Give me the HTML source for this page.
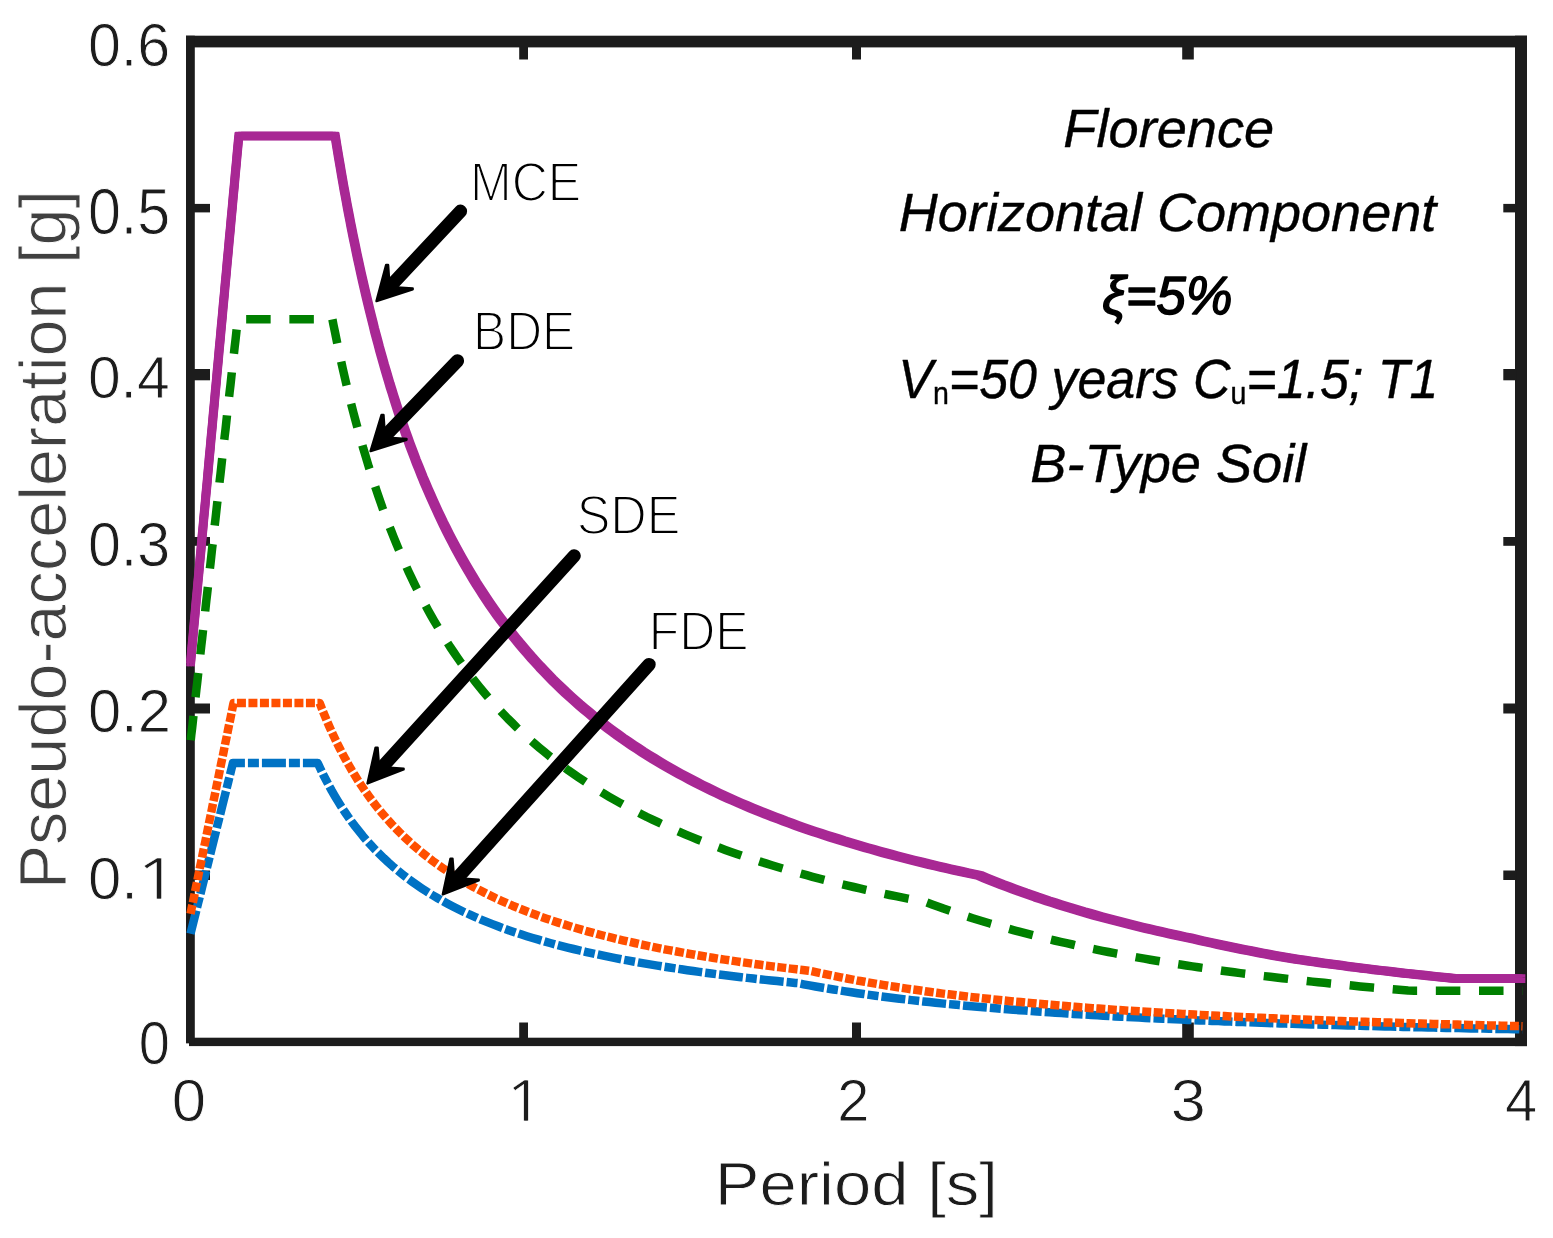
<!DOCTYPE html>
<html><head><meta charset="utf-8"><title>Pseudo-acceleration spectra</title>
<style>html,body{margin:0;padding:0;background:#fff;overflow:hidden}svg{display:block}</style>
</head><body>
<svg width="1553" height="1238" viewBox="0 0 1553 1238">
<rect width="1553" height="1238" fill="#fff"/>
<rect x="186" y="35.7" width="1341" height="11.7" fill="#1c1c1c"/>
<rect x="189" y="1037.7" width="1338" height="8.4" fill="#1c1c1c"/>
<rect x="186" y="1037.7" width="5" height="5.5" fill="#1c1c1c"/>
<rect x="186" y="35.7" width="8.8" height="1007.5" fill="#1c1c1c"/>
<rect x="1515" y="35.7" width="12" height="1010.4" fill="#1c1c1c"/>
<rect x="519.2" y="1022.5" width="8.8" height="16" fill="#1c1c1c"/>
<rect x="519.2" y="46" width="8.8" height="13.5" fill="#1c1c1c"/>
<rect x="852.0" y="1022.5" width="9.0" height="16" fill="#1c1c1c"/>
<rect x="852.0" y="46" width="9.0" height="13.5" fill="#1c1c1c"/>
<rect x="1182.2" y="1022.5" width="11.6" height="16" fill="#1c1c1c"/>
<rect x="1182.2" y="46" width="11.6" height="13.5" fill="#1c1c1c"/>
<rect x="194" y="203.9" width="16" height="8.5" fill="#1c1c1c"/>
<rect x="1503.3" y="203.9" width="13" height="8.5" fill="#1c1c1c"/>
<rect x="194" y="369.0" width="16" height="11.3" fill="#1c1c1c"/>
<rect x="1503.3" y="369.0" width="13" height="11.3" fill="#1c1c1c"/>
<rect x="194" y="537.0" width="16" height="8.8" fill="#1c1c1c"/>
<rect x="1503.3" y="537.0" width="13" height="8.8" fill="#1c1c1c"/>
<rect x="194" y="703.5" width="16" height="10.0" fill="#1c1c1c"/>
<rect x="1503.3" y="703.5" width="13" height="10.0" fill="#1c1c1c"/>
<rect x="194" y="870.5" width="16" height="9.5" fill="#1c1c1c"/>
<rect x="1503.3" y="870.5" width="13" height="9.5" fill="#1c1c1c"/>
<path d="M190.5,933.8L192.0,927.8L193.5,921.8L195.0,915.7L196.5,909.7L198.0,903.6L199.5,897.6L201.0,891.6L202.5,885.5L204.0,879.5L205.5,873.4L207.0,867.4L208.5,861.4L210.0,855.3L211.5,849.3L213.0,843.2L214.5,837.2L216.0,831.2L217.5,825.1L219.0,819.1L220.5,813.1L222.0,807.0L223.5,801.0L225.0,794.9L226.5,788.9L228.0,782.9L229.5,776.8L231.0,770.8L232.5,764.7L232.9,763.0L239.0,763.0L245.1,763.0L251.3,763.0L257.4,763.0L263.6,763.0L269.8,763.0L275.9,763.0L282.1,763.0L288.2,763.0L294.4,763.0L300.6,763.0L306.7,763.0L312.9,763.0L317.7,763.0L320.4,768.7L323.0,774.2L325.9,779.8L328.7,785.1L331.7,790.6L334.7,795.8L337.9,801.1L341.2,806.4L344.5,811.5L348.0,816.6L351.5,821.5L355.2,826.4L359.0,831.2L362.8,835.9L366.8,840.6L371.0,845.2L375.1,849.6L379.5,854.0L383.8,858.2L388.3,862.4L392.8,866.4L397.5,870.3L402.3,874.2L407.1,878.0L411.9,881.5L416.9,885.0L421.9,888.4L427.1,891.8L432.3,895.0L437.4,898.0L442.7,901.1L448.1,904.0L453.4,906.7L458.9,909.5L464.4,912.2L469.9,914.7L475.4,917.1L481.0,919.6L486.7,921.9L492.4,924.1L498.0,926.3L503.7,928.4L509.3,930.4L515.2,932.4L521.0,934.3L526.8,936.2L532.7,938.0L538.5,939.7L544.3,941.4L550.1,943.0L556.0,944.6L561.8,946.1L567.6,947.6L573.5,949.0L579.4,950.4L585.4,951.8L591.4,953.1L597.4,954.4L603.4,955.7L609.4,956.9L615.4,958.1L621.4,959.3L627.4,960.4L633.4,961.5L639.4,962.6L645.4,963.6L651.4,964.6L657.4,965.6L663.4,966.6L669.4,967.5L675.3,968.4L681.3,969.3L687.3,970.2L693.3,971.0L699.3,971.9L705.3,972.7L711.3,973.5L717.3,974.3L723.3,975.0L729.3,975.7L735.3,976.5L741.3,977.2L747.3,977.9L753.3,978.5L759.3,979.2L765.3,979.9L771.3,980.5L777.2,981.1L783.2,981.7L789.2,982.3L795.2,982.9L797.6,983.1L803.6,984.3L809.5,985.4L815.5,986.5L821.5,987.5L827.5,988.5L833.5,989.5L839.5,990.4L845.5,991.4L851.5,992.3L857.5,993.2L863.5,994.0L869.5,994.9L875.5,995.7L881.5,996.5L887.5,997.2L893.5,998.0L899.5,998.7L905.5,999.4L911.4,1000.1L917.4,1000.8L923.4,1001.5L929.4,1002.1L935.4,1002.7L941.4,1003.4L947.4,1004.0L953.4,1004.5L959.4,1005.1L965.4,1005.7L971.4,1006.2L977.4,1006.8L983.4,1007.3L989.4,1007.8L995.4,1008.3L1001.4,1008.8L1007.3,1009.3L1013.3,1009.7L1019.3,1010.2L1025.3,1010.6L1031.3,1011.1L1037.3,1011.5L1043.3,1011.9L1049.3,1012.3L1055.3,1012.7L1061.3,1013.1L1067.3,1013.5L1073.3,1013.9L1079.3,1014.3L1085.3,1014.6L1091.3,1015.0L1097.3,1015.3L1103.3,1015.7L1109.2,1016.0L1115.2,1016.4L1121.2,1016.7L1127.2,1017.0L1133.2,1017.3L1139.2,1017.6L1145.2,1017.9L1151.2,1018.2L1157.2,1018.5L1163.2,1018.8L1169.2,1019.0L1175.2,1019.3L1181.3,1019.6L1187.5,1019.9L1193.7,1020.1L1199.8,1020.4L1206.0,1020.6L1212.1,1020.9L1218.3,1021.1L1224.5,1021.4L1230.6,1021.6L1236.8,1021.9L1242.9,1022.1L1249.1,1022.3L1255.3,1022.5L1261.4,1022.7L1267.6,1023.0L1273.7,1023.2L1279.9,1023.4L1286.1,1023.6L1292.2,1023.8L1298.4,1024.0L1304.6,1024.2L1310.7,1024.4L1316.9,1024.5L1323.0,1024.7L1329.2,1024.9L1335.4,1025.1L1341.5,1025.3L1347.7,1025.4L1353.8,1025.6L1360.0,1025.8L1366.2,1025.9L1372.3,1026.1L1378.5,1026.3L1384.6,1026.4L1390.8,1026.6L1397.0,1026.7L1403.1,1026.9L1409.3,1027.0L1415.4,1027.2L1421.6,1027.3L1427.8,1027.5L1433.9,1027.6L1440.1,1027.7L1446.2,1027.9L1452.4,1028.0L1458.6,1028.1L1464.7,1028.3L1470.9,1028.4L1477.0,1028.5L1483.2,1028.6L1489.4,1028.8L1495.5,1028.9L1501.7,1029.0L1507.8,1029.1L1514.0,1029.2L1520.2,1029.3L1522.5,1029.4" fill="none" stroke="#0072c4" stroke-width="8.5" stroke-linejoin="round" stroke-linecap="butt" stroke-dasharray="24 3 11 3"/>
<path d="M190.5,913.8L191.8,907.3L193.2,900.8L194.5,894.3L195.8,887.7L197.2,881.2L198.5,874.7L199.8,868.2L201.2,861.7L202.5,855.1L203.8,848.6L205.2,842.1L206.5,835.6L207.8,829.0L209.1,822.5L210.5,816.0L211.8,809.5L213.1,802.9L214.5,796.4L215.8,789.9L217.1,783.4L218.5,776.9L219.8,770.3L221.1,763.8L222.5,757.3L223.8,750.8L225.1,744.2L226.5,737.7L227.8,731.2L229.1,724.7L230.5,718.2L231.8,711.6L233.1,705.1L233.6,703.0L239.6,703.0L245.8,703.0L251.9,703.0L258.1,703.0L264.3,703.0L270.4,703.0L276.6,703.0L282.7,703.0L288.9,703.0L295.1,703.0L301.2,703.0L307.4,703.0L313.5,703.0L319.7,703.0L322.0,709.0L324.4,714.8L326.7,720.4L329.2,726.2L331.7,731.7L334.4,737.5L337.0,743.0L339.9,748.7L342.7,754.1L345.7,759.7L348.7,765.0L351.8,770.4L355.0,775.6L358.3,780.9L361.7,786.0L365.2,791.1L368.7,796.0L372.3,800.9L376.1,805.9L380.0,810.7L384.0,815.4L388.0,820.0L392.1,824.6L396.3,829.0L400.6,833.4L405.0,837.6L409.4,841.7L413.9,845.8L418.6,849.8L423.3,853.6L428.1,857.4L432.9,861.1L437.9,864.7L442.9,868.2L447.9,871.6L453.1,874.9L458.2,878.1L463.4,881.2L468.7,884.3L474.0,887.3L479.4,890.1L484.9,892.9L490.4,895.6L495.9,898.3L501.4,900.8L506.8,903.2L512.5,905.7L518.2,908.0L523.8,910.3L529.5,912.5L535.2,914.6L540.8,916.7L546.6,918.7L552.5,920.7L558.3,922.6L564.1,924.4L570.0,926.2L575.8,928.0L581.6,929.7L587.4,931.3L593.3,932.9L599.1,934.5L604.9,936.0L610.7,937.4L616.7,938.9L622.7,940.3L628.7,941.7L634.7,943.0L640.7,944.4L646.7,945.6L652.7,946.9L658.7,948.1L664.7,949.3L670.7,950.4L676.7,951.5L682.7,952.6L688.7,953.7L694.7,954.7L700.7,955.8L706.6,956.8L712.6,957.7L718.6,958.7L724.6,959.6L730.6,960.5L736.6,961.4L742.6,962.3L748.6,963.1L754.6,964.0L760.6,964.8L766.6,965.6L772.6,966.4L778.6,967.1L784.6,967.9L790.6,968.6L796.6,969.3L802.6,970.0L808.5,970.7L810.9,971.0L816.9,972.3L822.9,973.6L828.9,974.9L834.9,976.1L840.8,977.3L846.8,978.5L852.8,979.6L858.8,980.8L864.8,981.8L870.8,982.9L876.8,983.9L882.8,984.9L888.8,985.9L894.8,986.8L900.8,987.7L906.8,988.6L912.8,989.5L918.8,990.3L924.8,991.2L930.8,992.0L936.8,992.8L942.7,993.6L948.7,994.3L954.7,995.0L960.7,995.8L966.7,996.5L972.7,997.2L978.7,997.8L984.7,998.5L990.7,999.1L996.7,999.8L1002.7,1000.4L1008.7,1001.0L1014.7,1001.6L1020.7,1002.1L1026.7,1002.7L1032.7,1003.2L1038.7,1003.8L1044.6,1004.3L1050.6,1004.8L1056.6,1005.3L1062.6,1005.8L1068.6,1006.3L1074.6,1006.8L1080.6,1007.3L1086.6,1007.7L1092.6,1008.2L1098.6,1008.6L1104.6,1009.0L1110.6,1009.4L1116.6,1009.9L1122.6,1010.3L1128.6,1010.7L1134.6,1011.1L1140.5,1011.4L1146.5,1011.8L1152.5,1012.2L1158.5,1012.5L1164.5,1012.9L1170.5,1013.2L1176.5,1013.6L1182.5,1013.9L1188.5,1014.3L1194.5,1014.6L1200.5,1014.9L1206.5,1015.2L1212.5,1015.5L1218.5,1015.8L1224.5,1016.1L1230.5,1016.4L1236.5,1016.7L1242.4,1017.0L1248.4,1017.3L1254.4,1017.5L1260.6,1017.8L1266.8,1018.1L1272.9,1018.3L1279.1,1018.6L1285.2,1018.9L1291.4,1019.1L1297.6,1019.4L1303.7,1019.6L1309.9,1019.8L1316.0,1020.1L1322.2,1020.3L1328.4,1020.5L1334.5,1020.8L1340.7,1021.0L1346.8,1021.2L1353.0,1021.4L1359.2,1021.6L1365.3,1021.8L1371.5,1022.0L1377.6,1022.2L1383.8,1022.4L1390.0,1022.6L1396.1,1022.8L1402.3,1023.0L1408.4,1023.2L1414.6,1023.4L1420.8,1023.6L1426.9,1023.8L1433.1,1023.9L1439.2,1024.1L1445.4,1024.3L1451.6,1024.4L1457.7,1024.6L1463.9,1024.8L1470.1,1024.9L1476.2,1025.1L1482.4,1025.2L1488.5,1025.4L1494.7,1025.5L1500.9,1025.7L1507.0,1025.8L1513.2,1026.0L1519.3,1026.1L1522.5,1026.2" fill="none" stroke="#ff4f00" stroke-width="8.5" stroke-linejoin="round" stroke-linecap="butt" stroke-dasharray="9 2.5"/>
<path d="M190.5,742.3L191.3,734.9L192.2,727.4L193.0,720.0L193.8,712.5L194.7,705.1L195.5,697.6L196.3,690.2L197.2,682.7L198.0,675.3L198.8,667.8L199.7,660.4L200.5,652.9L201.3,645.5L202.2,638.0L203.0,630.6L203.8,623.1L204.7,615.7L205.5,608.2L206.3,600.8L207.2,593.3L208.0,585.9L208.8,578.4L209.6,571.0L210.5,563.5L211.3,556.1L212.1,548.6L213.0,541.2L213.8,533.7L214.6,526.3L215.5,518.8L216.3,511.4L217.1,503.9L218.0,496.5L218.8,489.0L219.6,481.6L220.5,474.1L221.3,466.7L222.1,459.2L223.0,451.8L223.8,444.3L224.6,436.9L225.5,429.4L226.3,422.0L227.1,414.5L228.0,407.1L228.8,399.6L229.6,392.2L230.5,384.7L231.3,377.3L232.1,369.8L233.0,362.4L233.8,354.9L234.6,347.5L235.5,340.0L236.3,332.6L237.1,325.1L237.8,319.2L243.9,319.2L250.1,319.2L256.3,319.2L262.4,319.2L268.6,319.2L274.7,319.2L280.9,319.2L287.1,319.2L293.2,319.2L299.4,319.2L305.6,319.2L311.7,319.2L317.9,319.2L324.0,319.2L330.2,319.2L332.4,319.2L333.5,325.0L334.9,331.6L336.2,338.1L337.5,344.5L338.9,350.8L340.2,356.9L341.5,363.0L342.8,368.9L344.3,375.4L345.8,381.9L347.3,388.2L348.8,394.3L350.3,400.4L351.8,406.4L353.3,412.2L355.0,418.6L356.7,424.8L358.3,430.9L360.0,436.9L361.7,442.8L363.3,448.6L365.2,454.8L367.0,460.9L368.8,466.9L370.7,472.7L372.5,478.4L374.5,484.5L376.5,490.5L378.5,496.4L380.5,502.1L382.6,508.2L384.8,514.1L387.0,519.9L389.1,525.6L391.5,531.6L393.8,537.5L396.1,543.2L398.5,548.8L401.0,554.6L403.5,560.3L406.0,565.9L408.6,571.7L411.3,577.4L413.9,582.9L416.6,588.3L419.4,593.9L422.3,599.4L425.1,604.7L428.1,610.2L431.1,615.6L434.1,620.8L437.3,626.2L440.4,631.5L443.6,636.6L446.9,641.9L450.2,647.0L453.6,652.0L457.1,657.1L460.6,662.1L464.2,667.1L467.9,672.1L471.6,676.9L475.4,681.8L479.2,686.6L483.0,691.2L487.0,695.9L491.0,700.5L495.2,705.2L499.4,709.7L503.5,714.1L507.8,718.6L512.2,722.9L516.5,727.2L521.0,731.5L525.5,735.6L530.0,739.7L534.7,743.8L539.3,747.7L544.0,751.6L548.8,755.5L553.6,759.3L558.5,763.0L563.3,766.6L568.3,770.3L573.3,773.8L578.3,777.2L583.3,780.6L588.4,784.0L593.6,787.3L598.8,790.5L603.9,793.6L609.2,796.8L614.6,799.9L619.9,802.9L625.2,805.8L630.6,808.6L635.9,811.4L641.4,814.2L646.9,817.0L652.4,819.6L657.9,822.2L663.4,824.8L668.9,827.3L674.3,829.7L680.0,832.2L685.7,834.6L691.3,836.9L697.0,839.2L702.7,841.4L708.3,843.6L714.0,845.7L719.6,847.8L725.3,849.9L731.0,851.9L736.8,853.9L742.6,855.9L748.4,857.8L754.3,859.7L760.1,861.6L765.9,863.4L771.8,865.2L777.6,867.0L783.4,868.7L789.2,870.4L795.1,872.0L800.9,873.6L806.7,875.2L812.5,876.8L818.4,878.3L824.2,879.8L830.0,881.3L835.9,882.7L841.8,884.2L847.8,885.6L853.8,887.0L859.8,888.4L865.8,889.8L871.8,891.1L877.8,892.4L883.8,893.7L889.8,895.0L895.8,896.2L901.8,897.4L907.8,898.6L913.8,899.8L919.8,901.0L925.8,902.1L926.4,902.3L932.1,904.4L937.8,906.4L943.4,908.5L949.2,910.5L955.1,912.5L960.9,914.4L966.7,916.3L972.6,918.2L978.4,920.0L984.2,921.8L990.0,923.5L995.9,925.2L1001.7,926.9L1007.5,928.5L1013.3,930.1L1019.2,931.7L1025.0,933.2L1030.8,934.7L1036.7,936.2L1042.5,937.6L1048.5,939.1L1054.5,940.5L1060.5,941.9L1066.5,943.2L1072.5,944.5L1078.4,945.9L1084.4,947.1L1090.4,948.4L1096.4,949.6L1102.4,950.8L1108.4,952.0L1114.4,953.2L1120.4,954.3L1126.4,955.4L1132.4,956.5L1138.4,957.6L1144.4,958.6L1150.4,959.7L1156.4,960.7L1162.4,961.7L1168.4,962.6L1174.3,963.6L1180.3,964.5L1186.3,965.5L1192.3,966.4L1198.3,967.3L1204.3,968.1L1210.3,969.0L1216.3,969.8L1222.3,970.7L1228.3,971.5L1234.3,972.3L1240.3,973.1L1246.3,973.8L1252.3,974.6L1258.3,975.4L1264.3,976.1L1270.3,976.8L1276.2,977.5L1282.2,978.2L1288.2,978.9L1294.2,979.6L1300.2,980.3L1306.2,980.9L1312.2,981.6L1318.2,982.2L1324.2,982.8L1330.2,983.4L1336.2,984.0L1342.2,984.6L1348.2,985.2L1354.2,985.8L1360.2,986.4L1366.2,986.9L1372.2,987.5L1378.1,988.0L1384.1,988.6L1390.1,989.1L1396.1,989.6L1402.1,990.1L1408.1,990.6L1414.3,990.7L1420.4,990.7L1426.6,990.7L1432.8,990.7L1438.9,990.7L1445.1,990.7L1451.2,990.7L1457.4,990.7L1463.6,990.7L1469.7,990.7L1475.9,990.7L1482.0,990.7L1488.2,990.7L1494.4,990.7L1500.5,990.7L1506.7,990.7L1512.8,990.7L1519.0,990.7L1522.5,990.7" fill="none" stroke="#008000" stroke-width="8.5" stroke-linejoin="round" stroke-linecap="butt" stroke-dasharray="24.5 18.7" stroke-dashoffset="-2.1"/>
<g fill="none" stroke="#a82894" stroke-width="3.0" stroke-linejoin="round" stroke-linecap="butt">
<path transform="translate(-2.85,-2.85)" d="M190.5,663.5L191.2,656.2L191.8,648.9L192.5,641.7L193.2,634.4L193.8,627.1L194.5,619.8L195.2,612.6L195.8,605.3L196.5,598.0L197.2,590.7L197.8,583.5L198.5,576.2L199.2,568.9L199.8,561.6L200.5,554.4L201.2,547.1L201.8,539.8L202.5,532.5L203.2,525.2L203.8,518.0L204.5,510.7L205.2,503.4L205.8,496.1L206.5,488.9L207.2,481.6L207.8,474.3L208.5,467.0L209.1,459.8L209.8,452.5L210.5,445.2L211.1,437.9L211.8,430.7L212.5,423.4L213.1,416.1L213.8,408.8L214.5,401.6L215.1,394.3L215.8,387.0L216.5,379.7L217.1,372.5L217.8,365.2L218.5,357.9L219.1,350.6L219.8,343.3L220.5,336.1L221.1,328.8L221.8,321.5L222.5,314.2L223.1,307.0L223.8,299.7L224.5,292.4L225.1,285.1L225.8,277.9L226.5,270.6L227.1,263.3L227.8,256.0L228.5,248.8L229.1,241.5L229.8,234.2L230.5,226.9L231.1,219.7L231.8,212.4L232.5,205.1L233.1,197.8L233.8,190.6L234.5,183.3L235.1,176.0L235.8,168.7L236.5,161.4L237.1,154.2L237.8,146.9L238.5,139.6L238.8,136.0L244.9,136.0L251.1,136.0L257.3,136.0L263.4,136.0L269.6,136.0L275.7,136.0L281.9,136.0L288.1,136.0L294.2,136.0L300.4,136.0L306.6,136.0L312.7,136.0L318.9,136.0L325.0,136.0L331.2,136.0L335.2,136.0L336.2,142.4L337.2,148.5L338.2,154.6L339.2,160.5L340.4,167.4L341.5,174.1L342.7,180.8L343.8,187.3L345.0,193.7L346.2,200.1L347.3,206.3L348.5,212.5L349.7,218.6L350.8,224.6L352.0,230.5L353.3,237.1L354.7,243.6L356.0,250.0L357.3,256.4L358.7,262.6L360.0,268.7L361.3,274.7L362.7,280.7L364.2,287.2L365.7,293.7L367.2,300.0L368.7,306.3L370.2,312.4L371.7,318.4L373.2,324.3L374.6,330.2L376.3,336.6L378.0,342.8L379.6,349.0L381.3,355.0L383.0,361.0L384.6,366.8L386.5,373.1L388.3,379.3L390.1,385.4L392.0,391.3L393.8,397.2L395.6,402.9L397.6,409.1L399.6,415.1L401.6,421.1L403.6,426.9L405.6,432.6L407.8,438.7L409.9,444.6L412.1,450.4L414.3,456.1L416.4,461.8L418.8,467.7L421.1,473.5L423.4,479.2L425.8,484.7L428.3,490.6L430.8,496.3L433.3,501.9L435.8,507.4L438.4,513.1L441.1,518.8L443.7,524.3L446.4,529.6L449.2,535.2L452.1,540.7L454.9,546.1L457.9,551.6L460.9,557.1L463.9,562.4L467.1,567.9L470.2,573.2L473.4,578.5L476.5,583.6L479.9,588.8L483.2,594.0L486.5,599.0L490.0,604.2L493.5,609.2L497.0,614.2L500.7,619.2L504.4,624.1L508.0,629.0L511.8,633.9L515.7,638.7L519.5,643.4L523.5,648.1L527.5,652.8L531.5,657.4L535.7,662.0L539.8,666.5L544.0,670.9L548.3,675.4L552.6,679.8L557.0,684.1L561.3,688.2L565.8,692.5L570.3,696.6L574.8,700.6L579.4,704.7L584.1,708.7L588.8,712.6L593.4,716.4L598.3,720.3L603.1,724.0L607.9,727.7L612.7,731.3L617.7,734.9L622.7,738.5L627.7,741.9L632.7,745.3L637.9,748.7L643.0,752.1L648.2,755.3L653.4,758.5L658.5,761.6L663.9,764.8L669.2,767.9L674.5,770.9L679.8,773.8L685.2,776.7L690.5,779.5L695.8,782.3L701.3,785.1L706.8,787.8L712.3,790.5L717.8,793.1L723.3,795.7L728.8,798.2L734.3,800.6L739.9,803.1L745.6,805.5L751.3,807.9L756.9,810.2L762.6,812.5L768.3,814.8L773.9,817.0L779.6,819.1L785.2,821.3L790.9,823.3L796.6,825.4L802.2,827.4L808.0,829.4L813.9,831.4L819.7,833.3L825.5,835.2L831.4,837.1L837.2,838.9L843.0,840.8L848.8,842.5L854.7,844.3L860.5,846.0L866.3,847.7L872.2,849.3L878.0,851.0L883.8,852.6L889.6,854.1L895.5,855.7L901.3,857.2L907.1,858.7L912.9,860.2L918.8,861.6L924.8,863.1L930.8,864.6L936.8,866.0L942.7,867.4L948.7,868.7L954.7,870.1L960.7,871.4L966.7,872.7L972.7,874.0L978.7,875.3L979.7,875.5L985.4,877.9L991.0,880.2L996.7,882.4L1002.4,884.7L1008.0,886.8L1013.7,888.9L1019.3,891.0L1025.0,893.1L1030.7,895.0L1036.5,897.1L1042.3,899.0L1048.1,901.0L1054.0,902.8L1059.8,904.7L1065.6,906.5L1071.5,908.3L1077.3,910.0L1083.1,911.8L1088.9,913.4L1094.8,915.1L1100.6,916.7L1106.4,918.3L1112.2,919.8L1118.1,921.3L1123.9,922.8L1129.7,924.3L1135.6,925.8L1141.5,927.2L1147.5,928.6L1153.5,930.0L1159.5,931.4L1165.5,932.8L1171.5,934.1L1177.5,935.4L1183.5,936.7L1189.5,937.9L1195.5,939.3L1201.5,940.7L1207.5,942.0L1213.5,943.3L1219.5,944.6L1225.5,945.9L1231.5,947.1L1237.5,948.4L1243.4,949.6L1249.4,950.7L1255.4,951.9L1261.4,953.1L1267.4,954.2L1273.4,955.3L1279.4,956.4L1285.4,957.4L1291.4,958.4L1297.4,959.3L1303.4,960.2L1309.4,961.1L1315.4,961.9L1321.4,962.8L1327.4,963.6L1333.4,964.4L1339.4,965.2L1345.3,966.0L1351.3,966.8L1357.3,967.5L1363.3,968.3L1369.3,969.0L1375.3,969.8L1381.3,970.5L1387.3,971.2L1393.3,971.9L1399.3,972.6L1405.3,973.3L1411.3,973.9L1417.3,974.6L1423.3,975.2L1429.3,975.9L1435.3,976.5L1441.2,977.1L1447.2,977.7L1453.2,978.4L1459.2,978.7L1465.4,978.7L1471.6,978.7L1477.7,978.7L1483.9,978.7L1490.0,978.7L1496.2,978.7L1502.4,978.7L1508.5,978.7L1514.7,978.7L1520.8,978.7L1522.5,978.7"/>
<path transform="translate(-2.85,0.0)" d="M190.5,663.5L191.2,656.2L191.8,648.9L192.5,641.7L193.2,634.4L193.8,627.1L194.5,619.8L195.2,612.6L195.8,605.3L196.5,598.0L197.2,590.7L197.8,583.5L198.5,576.2L199.2,568.9L199.8,561.6L200.5,554.4L201.2,547.1L201.8,539.8L202.5,532.5L203.2,525.2L203.8,518.0L204.5,510.7L205.2,503.4L205.8,496.1L206.5,488.9L207.2,481.6L207.8,474.3L208.5,467.0L209.1,459.8L209.8,452.5L210.5,445.2L211.1,437.9L211.8,430.7L212.5,423.4L213.1,416.1L213.8,408.8L214.5,401.6L215.1,394.3L215.8,387.0L216.5,379.7L217.1,372.5L217.8,365.2L218.5,357.9L219.1,350.6L219.8,343.3L220.5,336.1L221.1,328.8L221.8,321.5L222.5,314.2L223.1,307.0L223.8,299.7L224.5,292.4L225.1,285.1L225.8,277.9L226.5,270.6L227.1,263.3L227.8,256.0L228.5,248.8L229.1,241.5L229.8,234.2L230.5,226.9L231.1,219.7L231.8,212.4L232.5,205.1L233.1,197.8L233.8,190.6L234.5,183.3L235.1,176.0L235.8,168.7L236.5,161.4L237.1,154.2L237.8,146.9L238.5,139.6L238.8,136.0L244.9,136.0L251.1,136.0L257.3,136.0L263.4,136.0L269.6,136.0L275.7,136.0L281.9,136.0L288.1,136.0L294.2,136.0L300.4,136.0L306.6,136.0L312.7,136.0L318.9,136.0L325.0,136.0L331.2,136.0L335.2,136.0L336.2,142.4L337.2,148.5L338.2,154.6L339.2,160.5L340.4,167.4L341.5,174.1L342.7,180.8L343.8,187.3L345.0,193.7L346.2,200.1L347.3,206.3L348.5,212.5L349.7,218.6L350.8,224.6L352.0,230.5L353.3,237.1L354.7,243.6L356.0,250.0L357.3,256.4L358.7,262.6L360.0,268.7L361.3,274.7L362.7,280.7L364.2,287.2L365.7,293.7L367.2,300.0L368.7,306.3L370.2,312.4L371.7,318.4L373.2,324.3L374.6,330.2L376.3,336.6L378.0,342.8L379.6,349.0L381.3,355.0L383.0,361.0L384.6,366.8L386.5,373.1L388.3,379.3L390.1,385.4L392.0,391.3L393.8,397.2L395.6,402.9L397.6,409.1L399.6,415.1L401.6,421.1L403.6,426.9L405.6,432.6L407.8,438.7L409.9,444.6L412.1,450.4L414.3,456.1L416.4,461.8L418.8,467.7L421.1,473.5L423.4,479.2L425.8,484.7L428.3,490.6L430.8,496.3L433.3,501.9L435.8,507.4L438.4,513.1L441.1,518.8L443.7,524.3L446.4,529.6L449.2,535.2L452.1,540.7L454.9,546.1L457.9,551.6L460.9,557.1L463.9,562.4L467.1,567.9L470.2,573.2L473.4,578.5L476.5,583.6L479.9,588.8L483.2,594.0L486.5,599.0L490.0,604.2L493.5,609.2L497.0,614.2L500.7,619.2L504.4,624.1L508.0,629.0L511.8,633.9L515.7,638.7L519.5,643.4L523.5,648.1L527.5,652.8L531.5,657.4L535.7,662.0L539.8,666.5L544.0,670.9L548.3,675.4L552.6,679.8L557.0,684.1L561.3,688.2L565.8,692.5L570.3,696.6L574.8,700.6L579.4,704.7L584.1,708.7L588.8,712.6L593.4,716.4L598.3,720.3L603.1,724.0L607.9,727.7L612.7,731.3L617.7,734.9L622.7,738.5L627.7,741.9L632.7,745.3L637.9,748.7L643.0,752.1L648.2,755.3L653.4,758.5L658.5,761.6L663.9,764.8L669.2,767.9L674.5,770.9L679.8,773.8L685.2,776.7L690.5,779.5L695.8,782.3L701.3,785.1L706.8,787.8L712.3,790.5L717.8,793.1L723.3,795.7L728.8,798.2L734.3,800.6L739.9,803.1L745.6,805.5L751.3,807.9L756.9,810.2L762.6,812.5L768.3,814.8L773.9,817.0L779.6,819.1L785.2,821.3L790.9,823.3L796.6,825.4L802.2,827.4L808.0,829.4L813.9,831.4L819.7,833.3L825.5,835.2L831.4,837.1L837.2,838.9L843.0,840.8L848.8,842.5L854.7,844.3L860.5,846.0L866.3,847.7L872.2,849.3L878.0,851.0L883.8,852.6L889.6,854.1L895.5,855.7L901.3,857.2L907.1,858.7L912.9,860.2L918.8,861.6L924.8,863.1L930.8,864.6L936.8,866.0L942.7,867.4L948.7,868.7L954.7,870.1L960.7,871.4L966.7,872.7L972.7,874.0L978.7,875.3L979.7,875.5L985.4,877.9L991.0,880.2L996.7,882.4L1002.4,884.7L1008.0,886.8L1013.7,888.9L1019.3,891.0L1025.0,893.1L1030.7,895.0L1036.5,897.1L1042.3,899.0L1048.1,901.0L1054.0,902.8L1059.8,904.7L1065.6,906.5L1071.5,908.3L1077.3,910.0L1083.1,911.8L1088.9,913.4L1094.8,915.1L1100.6,916.7L1106.4,918.3L1112.2,919.8L1118.1,921.3L1123.9,922.8L1129.7,924.3L1135.6,925.8L1141.5,927.2L1147.5,928.6L1153.5,930.0L1159.5,931.4L1165.5,932.8L1171.5,934.1L1177.5,935.4L1183.5,936.7L1189.5,937.9L1195.5,939.3L1201.5,940.7L1207.5,942.0L1213.5,943.3L1219.5,944.6L1225.5,945.9L1231.5,947.1L1237.5,948.4L1243.4,949.6L1249.4,950.7L1255.4,951.9L1261.4,953.1L1267.4,954.2L1273.4,955.3L1279.4,956.4L1285.4,957.4L1291.4,958.4L1297.4,959.3L1303.4,960.2L1309.4,961.1L1315.4,961.9L1321.4,962.8L1327.4,963.6L1333.4,964.4L1339.4,965.2L1345.3,966.0L1351.3,966.8L1357.3,967.5L1363.3,968.3L1369.3,969.0L1375.3,969.8L1381.3,970.5L1387.3,971.2L1393.3,971.9L1399.3,972.6L1405.3,973.3L1411.3,973.9L1417.3,974.6L1423.3,975.2L1429.3,975.9L1435.3,976.5L1441.2,977.1L1447.2,977.7L1453.2,978.4L1459.2,978.7L1465.4,978.7L1471.6,978.7L1477.7,978.7L1483.9,978.7L1490.0,978.7L1496.2,978.7L1502.4,978.7L1508.5,978.7L1514.7,978.7L1520.8,978.7L1522.5,978.7"/>
<path transform="translate(-2.85,2.85)" d="M190.5,663.5L191.2,656.2L191.8,648.9L192.5,641.7L193.2,634.4L193.8,627.1L194.5,619.8L195.2,612.6L195.8,605.3L196.5,598.0L197.2,590.7L197.8,583.5L198.5,576.2L199.2,568.9L199.8,561.6L200.5,554.4L201.2,547.1L201.8,539.8L202.5,532.5L203.2,525.2L203.8,518.0L204.5,510.7L205.2,503.4L205.8,496.1L206.5,488.9L207.2,481.6L207.8,474.3L208.5,467.0L209.1,459.8L209.8,452.5L210.5,445.2L211.1,437.9L211.8,430.7L212.5,423.4L213.1,416.1L213.8,408.8L214.5,401.6L215.1,394.3L215.8,387.0L216.5,379.7L217.1,372.5L217.8,365.2L218.5,357.9L219.1,350.6L219.8,343.3L220.5,336.1L221.1,328.8L221.8,321.5L222.5,314.2L223.1,307.0L223.8,299.7L224.5,292.4L225.1,285.1L225.8,277.9L226.5,270.6L227.1,263.3L227.8,256.0L228.5,248.8L229.1,241.5L229.8,234.2L230.5,226.9L231.1,219.7L231.8,212.4L232.5,205.1L233.1,197.8L233.8,190.6L234.5,183.3L235.1,176.0L235.8,168.7L236.5,161.4L237.1,154.2L237.8,146.9L238.5,139.6L238.8,136.0L244.9,136.0L251.1,136.0L257.3,136.0L263.4,136.0L269.6,136.0L275.7,136.0L281.9,136.0L288.1,136.0L294.2,136.0L300.4,136.0L306.6,136.0L312.7,136.0L318.9,136.0L325.0,136.0L331.2,136.0L335.2,136.0L336.2,142.4L337.2,148.5L338.2,154.6L339.2,160.5L340.4,167.4L341.5,174.1L342.7,180.8L343.8,187.3L345.0,193.7L346.2,200.1L347.3,206.3L348.5,212.5L349.7,218.6L350.8,224.6L352.0,230.5L353.3,237.1L354.7,243.6L356.0,250.0L357.3,256.4L358.7,262.6L360.0,268.7L361.3,274.7L362.7,280.7L364.2,287.2L365.7,293.7L367.2,300.0L368.7,306.3L370.2,312.4L371.7,318.4L373.2,324.3L374.6,330.2L376.3,336.6L378.0,342.8L379.6,349.0L381.3,355.0L383.0,361.0L384.6,366.8L386.5,373.1L388.3,379.3L390.1,385.4L392.0,391.3L393.8,397.2L395.6,402.9L397.6,409.1L399.6,415.1L401.6,421.1L403.6,426.9L405.6,432.6L407.8,438.7L409.9,444.6L412.1,450.4L414.3,456.1L416.4,461.8L418.8,467.7L421.1,473.5L423.4,479.2L425.8,484.7L428.3,490.6L430.8,496.3L433.3,501.9L435.8,507.4L438.4,513.1L441.1,518.8L443.7,524.3L446.4,529.6L449.2,535.2L452.1,540.7L454.9,546.1L457.9,551.6L460.9,557.1L463.9,562.4L467.1,567.9L470.2,573.2L473.4,578.5L476.5,583.6L479.9,588.8L483.2,594.0L486.5,599.0L490.0,604.2L493.5,609.2L497.0,614.2L500.7,619.2L504.4,624.1L508.0,629.0L511.8,633.9L515.7,638.7L519.5,643.4L523.5,648.1L527.5,652.8L531.5,657.4L535.7,662.0L539.8,666.5L544.0,670.9L548.3,675.4L552.6,679.8L557.0,684.1L561.3,688.2L565.8,692.5L570.3,696.6L574.8,700.6L579.4,704.7L584.1,708.7L588.8,712.6L593.4,716.4L598.3,720.3L603.1,724.0L607.9,727.7L612.7,731.3L617.7,734.9L622.7,738.5L627.7,741.9L632.7,745.3L637.9,748.7L643.0,752.1L648.2,755.3L653.4,758.5L658.5,761.6L663.9,764.8L669.2,767.9L674.5,770.9L679.8,773.8L685.2,776.7L690.5,779.5L695.8,782.3L701.3,785.1L706.8,787.8L712.3,790.5L717.8,793.1L723.3,795.7L728.8,798.2L734.3,800.6L739.9,803.1L745.6,805.5L751.3,807.9L756.9,810.2L762.6,812.5L768.3,814.8L773.9,817.0L779.6,819.1L785.2,821.3L790.9,823.3L796.6,825.4L802.2,827.4L808.0,829.4L813.9,831.4L819.7,833.3L825.5,835.2L831.4,837.1L837.2,838.9L843.0,840.8L848.8,842.5L854.7,844.3L860.5,846.0L866.3,847.7L872.2,849.3L878.0,851.0L883.8,852.6L889.6,854.1L895.5,855.7L901.3,857.2L907.1,858.7L912.9,860.2L918.8,861.6L924.8,863.1L930.8,864.6L936.8,866.0L942.7,867.4L948.7,868.7L954.7,870.1L960.7,871.4L966.7,872.7L972.7,874.0L978.7,875.3L979.7,875.5L985.4,877.9L991.0,880.2L996.7,882.4L1002.4,884.7L1008.0,886.8L1013.7,888.9L1019.3,891.0L1025.0,893.1L1030.7,895.0L1036.5,897.1L1042.3,899.0L1048.1,901.0L1054.0,902.8L1059.8,904.7L1065.6,906.5L1071.5,908.3L1077.3,910.0L1083.1,911.8L1088.9,913.4L1094.8,915.1L1100.6,916.7L1106.4,918.3L1112.2,919.8L1118.1,921.3L1123.9,922.8L1129.7,924.3L1135.6,925.8L1141.5,927.2L1147.5,928.6L1153.5,930.0L1159.5,931.4L1165.5,932.8L1171.5,934.1L1177.5,935.4L1183.5,936.7L1189.5,937.9L1195.5,939.3L1201.5,940.7L1207.5,942.0L1213.5,943.3L1219.5,944.6L1225.5,945.9L1231.5,947.1L1237.5,948.4L1243.4,949.6L1249.4,950.7L1255.4,951.9L1261.4,953.1L1267.4,954.2L1273.4,955.3L1279.4,956.4L1285.4,957.4L1291.4,958.4L1297.4,959.3L1303.4,960.2L1309.4,961.1L1315.4,961.9L1321.4,962.8L1327.4,963.6L1333.4,964.4L1339.4,965.2L1345.3,966.0L1351.3,966.8L1357.3,967.5L1363.3,968.3L1369.3,969.0L1375.3,969.8L1381.3,970.5L1387.3,971.2L1393.3,971.9L1399.3,972.6L1405.3,973.3L1411.3,973.9L1417.3,974.6L1423.3,975.2L1429.3,975.9L1435.3,976.5L1441.2,977.1L1447.2,977.7L1453.2,978.4L1459.2,978.7L1465.4,978.7L1471.6,978.7L1477.7,978.7L1483.9,978.7L1490.0,978.7L1496.2,978.7L1502.4,978.7L1508.5,978.7L1514.7,978.7L1520.8,978.7L1522.5,978.7"/>
<path transform="translate(0.0,-2.85)" d="M190.5,663.5L191.2,656.2L191.8,648.9L192.5,641.7L193.2,634.4L193.8,627.1L194.5,619.8L195.2,612.6L195.8,605.3L196.5,598.0L197.2,590.7L197.8,583.5L198.5,576.2L199.2,568.9L199.8,561.6L200.5,554.4L201.2,547.1L201.8,539.8L202.5,532.5L203.2,525.2L203.8,518.0L204.5,510.7L205.2,503.4L205.8,496.1L206.5,488.9L207.2,481.6L207.8,474.3L208.5,467.0L209.1,459.8L209.8,452.5L210.5,445.2L211.1,437.9L211.8,430.7L212.5,423.4L213.1,416.1L213.8,408.8L214.5,401.6L215.1,394.3L215.8,387.0L216.5,379.7L217.1,372.5L217.8,365.2L218.5,357.9L219.1,350.6L219.8,343.3L220.5,336.1L221.1,328.8L221.8,321.5L222.5,314.2L223.1,307.0L223.8,299.7L224.5,292.4L225.1,285.1L225.8,277.9L226.5,270.6L227.1,263.3L227.8,256.0L228.5,248.8L229.1,241.5L229.8,234.2L230.5,226.9L231.1,219.7L231.8,212.4L232.5,205.1L233.1,197.8L233.8,190.6L234.5,183.3L235.1,176.0L235.8,168.7L236.5,161.4L237.1,154.2L237.8,146.9L238.5,139.6L238.8,136.0L244.9,136.0L251.1,136.0L257.3,136.0L263.4,136.0L269.6,136.0L275.7,136.0L281.9,136.0L288.1,136.0L294.2,136.0L300.4,136.0L306.6,136.0L312.7,136.0L318.9,136.0L325.0,136.0L331.2,136.0L335.2,136.0L336.2,142.4L337.2,148.5L338.2,154.6L339.2,160.5L340.4,167.4L341.5,174.1L342.7,180.8L343.8,187.3L345.0,193.7L346.2,200.1L347.3,206.3L348.5,212.5L349.7,218.6L350.8,224.6L352.0,230.5L353.3,237.1L354.7,243.6L356.0,250.0L357.3,256.4L358.7,262.6L360.0,268.7L361.3,274.7L362.7,280.7L364.2,287.2L365.7,293.7L367.2,300.0L368.7,306.3L370.2,312.4L371.7,318.4L373.2,324.3L374.6,330.2L376.3,336.6L378.0,342.8L379.6,349.0L381.3,355.0L383.0,361.0L384.6,366.8L386.5,373.1L388.3,379.3L390.1,385.4L392.0,391.3L393.8,397.2L395.6,402.9L397.6,409.1L399.6,415.1L401.6,421.1L403.6,426.9L405.6,432.6L407.8,438.7L409.9,444.6L412.1,450.4L414.3,456.1L416.4,461.8L418.8,467.7L421.1,473.5L423.4,479.2L425.8,484.7L428.3,490.6L430.8,496.3L433.3,501.9L435.8,507.4L438.4,513.1L441.1,518.8L443.7,524.3L446.4,529.6L449.2,535.2L452.1,540.7L454.9,546.1L457.9,551.6L460.9,557.1L463.9,562.4L467.1,567.9L470.2,573.2L473.4,578.5L476.5,583.6L479.9,588.8L483.2,594.0L486.5,599.0L490.0,604.2L493.5,609.2L497.0,614.2L500.7,619.2L504.4,624.1L508.0,629.0L511.8,633.9L515.7,638.7L519.5,643.4L523.5,648.1L527.5,652.8L531.5,657.4L535.7,662.0L539.8,666.5L544.0,670.9L548.3,675.4L552.6,679.8L557.0,684.1L561.3,688.2L565.8,692.5L570.3,696.6L574.8,700.6L579.4,704.7L584.1,708.7L588.8,712.6L593.4,716.4L598.3,720.3L603.1,724.0L607.9,727.7L612.7,731.3L617.7,734.9L622.7,738.5L627.7,741.9L632.7,745.3L637.9,748.7L643.0,752.1L648.2,755.3L653.4,758.5L658.5,761.6L663.9,764.8L669.2,767.9L674.5,770.9L679.8,773.8L685.2,776.7L690.5,779.5L695.8,782.3L701.3,785.1L706.8,787.8L712.3,790.5L717.8,793.1L723.3,795.7L728.8,798.2L734.3,800.6L739.9,803.1L745.6,805.5L751.3,807.9L756.9,810.2L762.6,812.5L768.3,814.8L773.9,817.0L779.6,819.1L785.2,821.3L790.9,823.3L796.6,825.4L802.2,827.4L808.0,829.4L813.9,831.4L819.7,833.3L825.5,835.2L831.4,837.1L837.2,838.9L843.0,840.8L848.8,842.5L854.7,844.3L860.5,846.0L866.3,847.7L872.2,849.3L878.0,851.0L883.8,852.6L889.6,854.1L895.5,855.7L901.3,857.2L907.1,858.7L912.9,860.2L918.8,861.6L924.8,863.1L930.8,864.6L936.8,866.0L942.7,867.4L948.7,868.7L954.7,870.1L960.7,871.4L966.7,872.7L972.7,874.0L978.7,875.3L979.7,875.5L985.4,877.9L991.0,880.2L996.7,882.4L1002.4,884.7L1008.0,886.8L1013.7,888.9L1019.3,891.0L1025.0,893.1L1030.7,895.0L1036.5,897.1L1042.3,899.0L1048.1,901.0L1054.0,902.8L1059.8,904.7L1065.6,906.5L1071.5,908.3L1077.3,910.0L1083.1,911.8L1088.9,913.4L1094.8,915.1L1100.6,916.7L1106.4,918.3L1112.2,919.8L1118.1,921.3L1123.9,922.8L1129.7,924.3L1135.6,925.8L1141.5,927.2L1147.5,928.6L1153.5,930.0L1159.5,931.4L1165.5,932.8L1171.5,934.1L1177.5,935.4L1183.5,936.7L1189.5,937.9L1195.5,939.3L1201.5,940.7L1207.5,942.0L1213.5,943.3L1219.5,944.6L1225.5,945.9L1231.5,947.1L1237.5,948.4L1243.4,949.6L1249.4,950.7L1255.4,951.9L1261.4,953.1L1267.4,954.2L1273.4,955.3L1279.4,956.4L1285.4,957.4L1291.4,958.4L1297.4,959.3L1303.4,960.2L1309.4,961.1L1315.4,961.9L1321.4,962.8L1327.4,963.6L1333.4,964.4L1339.4,965.2L1345.3,966.0L1351.3,966.8L1357.3,967.5L1363.3,968.3L1369.3,969.0L1375.3,969.8L1381.3,970.5L1387.3,971.2L1393.3,971.9L1399.3,972.6L1405.3,973.3L1411.3,973.9L1417.3,974.6L1423.3,975.2L1429.3,975.9L1435.3,976.5L1441.2,977.1L1447.2,977.7L1453.2,978.4L1459.2,978.7L1465.4,978.7L1471.6,978.7L1477.7,978.7L1483.9,978.7L1490.0,978.7L1496.2,978.7L1502.4,978.7L1508.5,978.7L1514.7,978.7L1520.8,978.7L1522.5,978.7"/>
<path transform="translate(0.0,0.0)" d="M190.5,663.5L191.2,656.2L191.8,648.9L192.5,641.7L193.2,634.4L193.8,627.1L194.5,619.8L195.2,612.6L195.8,605.3L196.5,598.0L197.2,590.7L197.8,583.5L198.5,576.2L199.2,568.9L199.8,561.6L200.5,554.4L201.2,547.1L201.8,539.8L202.5,532.5L203.2,525.2L203.8,518.0L204.5,510.7L205.2,503.4L205.8,496.1L206.5,488.9L207.2,481.6L207.8,474.3L208.5,467.0L209.1,459.8L209.8,452.5L210.5,445.2L211.1,437.9L211.8,430.7L212.5,423.4L213.1,416.1L213.8,408.8L214.5,401.6L215.1,394.3L215.8,387.0L216.5,379.7L217.1,372.5L217.8,365.2L218.5,357.9L219.1,350.6L219.8,343.3L220.5,336.1L221.1,328.8L221.8,321.5L222.5,314.2L223.1,307.0L223.8,299.7L224.5,292.4L225.1,285.1L225.8,277.9L226.5,270.6L227.1,263.3L227.8,256.0L228.5,248.8L229.1,241.5L229.8,234.2L230.5,226.9L231.1,219.7L231.8,212.4L232.5,205.1L233.1,197.8L233.8,190.6L234.5,183.3L235.1,176.0L235.8,168.7L236.5,161.4L237.1,154.2L237.8,146.9L238.5,139.6L238.8,136.0L244.9,136.0L251.1,136.0L257.3,136.0L263.4,136.0L269.6,136.0L275.7,136.0L281.9,136.0L288.1,136.0L294.2,136.0L300.4,136.0L306.6,136.0L312.7,136.0L318.9,136.0L325.0,136.0L331.2,136.0L335.2,136.0L336.2,142.4L337.2,148.5L338.2,154.6L339.2,160.5L340.4,167.4L341.5,174.1L342.7,180.8L343.8,187.3L345.0,193.7L346.2,200.1L347.3,206.3L348.5,212.5L349.7,218.6L350.8,224.6L352.0,230.5L353.3,237.1L354.7,243.6L356.0,250.0L357.3,256.4L358.7,262.6L360.0,268.7L361.3,274.7L362.7,280.7L364.2,287.2L365.7,293.7L367.2,300.0L368.7,306.3L370.2,312.4L371.7,318.4L373.2,324.3L374.6,330.2L376.3,336.6L378.0,342.8L379.6,349.0L381.3,355.0L383.0,361.0L384.6,366.8L386.5,373.1L388.3,379.3L390.1,385.4L392.0,391.3L393.8,397.2L395.6,402.9L397.6,409.1L399.6,415.1L401.6,421.1L403.6,426.9L405.6,432.6L407.8,438.7L409.9,444.6L412.1,450.4L414.3,456.1L416.4,461.8L418.8,467.7L421.1,473.5L423.4,479.2L425.8,484.7L428.3,490.6L430.8,496.3L433.3,501.9L435.8,507.4L438.4,513.1L441.1,518.8L443.7,524.3L446.4,529.6L449.2,535.2L452.1,540.7L454.9,546.1L457.9,551.6L460.9,557.1L463.9,562.4L467.1,567.9L470.2,573.2L473.4,578.5L476.5,583.6L479.9,588.8L483.2,594.0L486.5,599.0L490.0,604.2L493.5,609.2L497.0,614.2L500.7,619.2L504.4,624.1L508.0,629.0L511.8,633.9L515.7,638.7L519.5,643.4L523.5,648.1L527.5,652.8L531.5,657.4L535.7,662.0L539.8,666.5L544.0,670.9L548.3,675.4L552.6,679.8L557.0,684.1L561.3,688.2L565.8,692.5L570.3,696.6L574.8,700.6L579.4,704.7L584.1,708.7L588.8,712.6L593.4,716.4L598.3,720.3L603.1,724.0L607.9,727.7L612.7,731.3L617.7,734.9L622.7,738.5L627.7,741.9L632.7,745.3L637.9,748.7L643.0,752.1L648.2,755.3L653.4,758.5L658.5,761.6L663.9,764.8L669.2,767.9L674.5,770.9L679.8,773.8L685.2,776.7L690.5,779.5L695.8,782.3L701.3,785.1L706.8,787.8L712.3,790.5L717.8,793.1L723.3,795.7L728.8,798.2L734.3,800.6L739.9,803.1L745.6,805.5L751.3,807.9L756.9,810.2L762.6,812.5L768.3,814.8L773.9,817.0L779.6,819.1L785.2,821.3L790.9,823.3L796.6,825.4L802.2,827.4L808.0,829.4L813.9,831.4L819.7,833.3L825.5,835.2L831.4,837.1L837.2,838.9L843.0,840.8L848.8,842.5L854.7,844.3L860.5,846.0L866.3,847.7L872.2,849.3L878.0,851.0L883.8,852.6L889.6,854.1L895.5,855.7L901.3,857.2L907.1,858.7L912.9,860.2L918.8,861.6L924.8,863.1L930.8,864.6L936.8,866.0L942.7,867.4L948.7,868.7L954.7,870.1L960.7,871.4L966.7,872.7L972.7,874.0L978.7,875.3L979.7,875.5L985.4,877.9L991.0,880.2L996.7,882.4L1002.4,884.7L1008.0,886.8L1013.7,888.9L1019.3,891.0L1025.0,893.1L1030.7,895.0L1036.5,897.1L1042.3,899.0L1048.1,901.0L1054.0,902.8L1059.8,904.7L1065.6,906.5L1071.5,908.3L1077.3,910.0L1083.1,911.8L1088.9,913.4L1094.8,915.1L1100.6,916.7L1106.4,918.3L1112.2,919.8L1118.1,921.3L1123.9,922.8L1129.7,924.3L1135.6,925.8L1141.5,927.2L1147.5,928.6L1153.5,930.0L1159.5,931.4L1165.5,932.8L1171.5,934.1L1177.5,935.4L1183.5,936.7L1189.5,937.9L1195.5,939.3L1201.5,940.7L1207.5,942.0L1213.5,943.3L1219.5,944.6L1225.5,945.9L1231.5,947.1L1237.5,948.4L1243.4,949.6L1249.4,950.7L1255.4,951.9L1261.4,953.1L1267.4,954.2L1273.4,955.3L1279.4,956.4L1285.4,957.4L1291.4,958.4L1297.4,959.3L1303.4,960.2L1309.4,961.1L1315.4,961.9L1321.4,962.8L1327.4,963.6L1333.4,964.4L1339.4,965.2L1345.3,966.0L1351.3,966.8L1357.3,967.5L1363.3,968.3L1369.3,969.0L1375.3,969.8L1381.3,970.5L1387.3,971.2L1393.3,971.9L1399.3,972.6L1405.3,973.3L1411.3,973.9L1417.3,974.6L1423.3,975.2L1429.3,975.9L1435.3,976.5L1441.2,977.1L1447.2,977.7L1453.2,978.4L1459.2,978.7L1465.4,978.7L1471.6,978.7L1477.7,978.7L1483.9,978.7L1490.0,978.7L1496.2,978.7L1502.4,978.7L1508.5,978.7L1514.7,978.7L1520.8,978.7L1522.5,978.7"/>
<path transform="translate(0.0,2.85)" d="M190.5,663.5L191.2,656.2L191.8,648.9L192.5,641.7L193.2,634.4L193.8,627.1L194.5,619.8L195.2,612.6L195.8,605.3L196.5,598.0L197.2,590.7L197.8,583.5L198.5,576.2L199.2,568.9L199.8,561.6L200.5,554.4L201.2,547.1L201.8,539.8L202.5,532.5L203.2,525.2L203.8,518.0L204.5,510.7L205.2,503.4L205.8,496.1L206.5,488.9L207.2,481.6L207.8,474.3L208.5,467.0L209.1,459.8L209.8,452.5L210.5,445.2L211.1,437.9L211.8,430.7L212.5,423.4L213.1,416.1L213.8,408.8L214.5,401.6L215.1,394.3L215.8,387.0L216.5,379.7L217.1,372.5L217.8,365.2L218.5,357.9L219.1,350.6L219.8,343.3L220.5,336.1L221.1,328.8L221.8,321.5L222.5,314.2L223.1,307.0L223.8,299.7L224.5,292.4L225.1,285.1L225.8,277.9L226.5,270.6L227.1,263.3L227.8,256.0L228.5,248.8L229.1,241.5L229.8,234.2L230.5,226.9L231.1,219.7L231.8,212.4L232.5,205.1L233.1,197.8L233.8,190.6L234.5,183.3L235.1,176.0L235.8,168.7L236.5,161.4L237.1,154.2L237.8,146.9L238.5,139.6L238.8,136.0L244.9,136.0L251.1,136.0L257.3,136.0L263.4,136.0L269.6,136.0L275.7,136.0L281.9,136.0L288.1,136.0L294.2,136.0L300.4,136.0L306.6,136.0L312.7,136.0L318.9,136.0L325.0,136.0L331.2,136.0L335.2,136.0L336.2,142.4L337.2,148.5L338.2,154.6L339.2,160.5L340.4,167.4L341.5,174.1L342.7,180.8L343.8,187.3L345.0,193.7L346.2,200.1L347.3,206.3L348.5,212.5L349.7,218.6L350.8,224.6L352.0,230.5L353.3,237.1L354.7,243.6L356.0,250.0L357.3,256.4L358.7,262.6L360.0,268.7L361.3,274.7L362.7,280.7L364.2,287.2L365.7,293.7L367.2,300.0L368.7,306.3L370.2,312.4L371.7,318.4L373.2,324.3L374.6,330.2L376.3,336.6L378.0,342.8L379.6,349.0L381.3,355.0L383.0,361.0L384.6,366.8L386.5,373.1L388.3,379.3L390.1,385.4L392.0,391.3L393.8,397.2L395.6,402.9L397.6,409.1L399.6,415.1L401.6,421.1L403.6,426.9L405.6,432.6L407.8,438.7L409.9,444.6L412.1,450.4L414.3,456.1L416.4,461.8L418.8,467.7L421.1,473.5L423.4,479.2L425.8,484.7L428.3,490.6L430.8,496.3L433.3,501.9L435.8,507.4L438.4,513.1L441.1,518.8L443.7,524.3L446.4,529.6L449.2,535.2L452.1,540.7L454.9,546.1L457.9,551.6L460.9,557.1L463.9,562.4L467.1,567.9L470.2,573.2L473.4,578.5L476.5,583.6L479.9,588.8L483.2,594.0L486.5,599.0L490.0,604.2L493.5,609.2L497.0,614.2L500.7,619.2L504.4,624.1L508.0,629.0L511.8,633.9L515.7,638.7L519.5,643.4L523.5,648.1L527.5,652.8L531.5,657.4L535.7,662.0L539.8,666.5L544.0,670.9L548.3,675.4L552.6,679.8L557.0,684.1L561.3,688.2L565.8,692.5L570.3,696.6L574.8,700.6L579.4,704.7L584.1,708.7L588.8,712.6L593.4,716.4L598.3,720.3L603.1,724.0L607.9,727.7L612.7,731.3L617.7,734.9L622.7,738.5L627.7,741.9L632.7,745.3L637.9,748.7L643.0,752.1L648.2,755.3L653.4,758.5L658.5,761.6L663.9,764.8L669.2,767.9L674.5,770.9L679.8,773.8L685.2,776.7L690.5,779.5L695.8,782.3L701.3,785.1L706.8,787.8L712.3,790.5L717.8,793.1L723.3,795.7L728.8,798.2L734.3,800.6L739.9,803.1L745.6,805.5L751.3,807.9L756.9,810.2L762.6,812.5L768.3,814.8L773.9,817.0L779.6,819.1L785.2,821.3L790.9,823.3L796.6,825.4L802.2,827.4L808.0,829.4L813.9,831.4L819.7,833.3L825.5,835.2L831.4,837.1L837.2,838.9L843.0,840.8L848.8,842.5L854.7,844.3L860.5,846.0L866.3,847.7L872.2,849.3L878.0,851.0L883.8,852.6L889.6,854.1L895.5,855.7L901.3,857.2L907.1,858.7L912.9,860.2L918.8,861.6L924.8,863.1L930.8,864.6L936.8,866.0L942.7,867.4L948.7,868.7L954.7,870.1L960.7,871.4L966.7,872.7L972.7,874.0L978.7,875.3L979.7,875.5L985.4,877.9L991.0,880.2L996.7,882.4L1002.4,884.7L1008.0,886.8L1013.7,888.9L1019.3,891.0L1025.0,893.1L1030.7,895.0L1036.5,897.1L1042.3,899.0L1048.1,901.0L1054.0,902.8L1059.8,904.7L1065.6,906.5L1071.5,908.3L1077.3,910.0L1083.1,911.8L1088.9,913.4L1094.8,915.1L1100.6,916.7L1106.4,918.3L1112.2,919.8L1118.1,921.3L1123.9,922.8L1129.7,924.3L1135.6,925.8L1141.5,927.2L1147.5,928.6L1153.5,930.0L1159.5,931.4L1165.5,932.8L1171.5,934.1L1177.5,935.4L1183.5,936.7L1189.5,937.9L1195.5,939.3L1201.5,940.7L1207.5,942.0L1213.5,943.3L1219.5,944.6L1225.5,945.9L1231.5,947.1L1237.5,948.4L1243.4,949.6L1249.4,950.7L1255.4,951.9L1261.4,953.1L1267.4,954.2L1273.4,955.3L1279.4,956.4L1285.4,957.4L1291.4,958.4L1297.4,959.3L1303.4,960.2L1309.4,961.1L1315.4,961.9L1321.4,962.8L1327.4,963.6L1333.4,964.4L1339.4,965.2L1345.3,966.0L1351.3,966.8L1357.3,967.5L1363.3,968.3L1369.3,969.0L1375.3,969.8L1381.3,970.5L1387.3,971.2L1393.3,971.9L1399.3,972.6L1405.3,973.3L1411.3,973.9L1417.3,974.6L1423.3,975.2L1429.3,975.9L1435.3,976.5L1441.2,977.1L1447.2,977.7L1453.2,978.4L1459.2,978.7L1465.4,978.7L1471.6,978.7L1477.7,978.7L1483.9,978.7L1490.0,978.7L1496.2,978.7L1502.4,978.7L1508.5,978.7L1514.7,978.7L1520.8,978.7L1522.5,978.7"/>
<path transform="translate(2.85,-2.85)" d="M190.5,663.5L191.2,656.2L191.8,648.9L192.5,641.7L193.2,634.4L193.8,627.1L194.5,619.8L195.2,612.6L195.8,605.3L196.5,598.0L197.2,590.7L197.8,583.5L198.5,576.2L199.2,568.9L199.8,561.6L200.5,554.4L201.2,547.1L201.8,539.8L202.5,532.5L203.2,525.2L203.8,518.0L204.5,510.7L205.2,503.4L205.8,496.1L206.5,488.9L207.2,481.6L207.8,474.3L208.5,467.0L209.1,459.8L209.8,452.5L210.5,445.2L211.1,437.9L211.8,430.7L212.5,423.4L213.1,416.1L213.8,408.8L214.5,401.6L215.1,394.3L215.8,387.0L216.5,379.7L217.1,372.5L217.8,365.2L218.5,357.9L219.1,350.6L219.8,343.3L220.5,336.1L221.1,328.8L221.8,321.5L222.5,314.2L223.1,307.0L223.8,299.7L224.5,292.4L225.1,285.1L225.8,277.9L226.5,270.6L227.1,263.3L227.8,256.0L228.5,248.8L229.1,241.5L229.8,234.2L230.5,226.9L231.1,219.7L231.8,212.4L232.5,205.1L233.1,197.8L233.8,190.6L234.5,183.3L235.1,176.0L235.8,168.7L236.5,161.4L237.1,154.2L237.8,146.9L238.5,139.6L238.8,136.0L244.9,136.0L251.1,136.0L257.3,136.0L263.4,136.0L269.6,136.0L275.7,136.0L281.9,136.0L288.1,136.0L294.2,136.0L300.4,136.0L306.6,136.0L312.7,136.0L318.9,136.0L325.0,136.0L331.2,136.0L335.2,136.0L336.2,142.4L337.2,148.5L338.2,154.6L339.2,160.5L340.4,167.4L341.5,174.1L342.7,180.8L343.8,187.3L345.0,193.7L346.2,200.1L347.3,206.3L348.5,212.5L349.7,218.6L350.8,224.6L352.0,230.5L353.3,237.1L354.7,243.6L356.0,250.0L357.3,256.4L358.7,262.6L360.0,268.7L361.3,274.7L362.7,280.7L364.2,287.2L365.7,293.7L367.2,300.0L368.7,306.3L370.2,312.4L371.7,318.4L373.2,324.3L374.6,330.2L376.3,336.6L378.0,342.8L379.6,349.0L381.3,355.0L383.0,361.0L384.6,366.8L386.5,373.1L388.3,379.3L390.1,385.4L392.0,391.3L393.8,397.2L395.6,402.9L397.6,409.1L399.6,415.1L401.6,421.1L403.6,426.9L405.6,432.6L407.8,438.7L409.9,444.6L412.1,450.4L414.3,456.1L416.4,461.8L418.8,467.7L421.1,473.5L423.4,479.2L425.8,484.7L428.3,490.6L430.8,496.3L433.3,501.9L435.8,507.4L438.4,513.1L441.1,518.8L443.7,524.3L446.4,529.6L449.2,535.2L452.1,540.7L454.9,546.1L457.9,551.6L460.9,557.1L463.9,562.4L467.1,567.9L470.2,573.2L473.4,578.5L476.5,583.6L479.9,588.8L483.2,594.0L486.5,599.0L490.0,604.2L493.5,609.2L497.0,614.2L500.7,619.2L504.4,624.1L508.0,629.0L511.8,633.9L515.7,638.7L519.5,643.4L523.5,648.1L527.5,652.8L531.5,657.4L535.7,662.0L539.8,666.5L544.0,670.9L548.3,675.4L552.6,679.8L557.0,684.1L561.3,688.2L565.8,692.5L570.3,696.6L574.8,700.6L579.4,704.7L584.1,708.7L588.8,712.6L593.4,716.4L598.3,720.3L603.1,724.0L607.9,727.7L612.7,731.3L617.7,734.9L622.7,738.5L627.7,741.9L632.7,745.3L637.9,748.7L643.0,752.1L648.2,755.3L653.4,758.5L658.5,761.6L663.9,764.8L669.2,767.9L674.5,770.9L679.8,773.8L685.2,776.7L690.5,779.5L695.8,782.3L701.3,785.1L706.8,787.8L712.3,790.5L717.8,793.1L723.3,795.7L728.8,798.2L734.3,800.6L739.9,803.1L745.6,805.5L751.3,807.9L756.9,810.2L762.6,812.5L768.3,814.8L773.9,817.0L779.6,819.1L785.2,821.3L790.9,823.3L796.6,825.4L802.2,827.4L808.0,829.4L813.9,831.4L819.7,833.3L825.5,835.2L831.4,837.1L837.2,838.9L843.0,840.8L848.8,842.5L854.7,844.3L860.5,846.0L866.3,847.7L872.2,849.3L878.0,851.0L883.8,852.6L889.6,854.1L895.5,855.7L901.3,857.2L907.1,858.7L912.9,860.2L918.8,861.6L924.8,863.1L930.8,864.6L936.8,866.0L942.7,867.4L948.7,868.7L954.7,870.1L960.7,871.4L966.7,872.7L972.7,874.0L978.7,875.3L979.7,875.5L985.4,877.9L991.0,880.2L996.7,882.4L1002.4,884.7L1008.0,886.8L1013.7,888.9L1019.3,891.0L1025.0,893.1L1030.7,895.0L1036.5,897.1L1042.3,899.0L1048.1,901.0L1054.0,902.8L1059.8,904.7L1065.6,906.5L1071.5,908.3L1077.3,910.0L1083.1,911.8L1088.9,913.4L1094.8,915.1L1100.6,916.7L1106.4,918.3L1112.2,919.8L1118.1,921.3L1123.9,922.8L1129.7,924.3L1135.6,925.8L1141.5,927.2L1147.5,928.6L1153.5,930.0L1159.5,931.4L1165.5,932.8L1171.5,934.1L1177.5,935.4L1183.5,936.7L1189.5,937.9L1195.5,939.3L1201.5,940.7L1207.5,942.0L1213.5,943.3L1219.5,944.6L1225.5,945.9L1231.5,947.1L1237.5,948.4L1243.4,949.6L1249.4,950.7L1255.4,951.9L1261.4,953.1L1267.4,954.2L1273.4,955.3L1279.4,956.4L1285.4,957.4L1291.4,958.4L1297.4,959.3L1303.4,960.2L1309.4,961.1L1315.4,961.9L1321.4,962.8L1327.4,963.6L1333.4,964.4L1339.4,965.2L1345.3,966.0L1351.3,966.8L1357.3,967.5L1363.3,968.3L1369.3,969.0L1375.3,969.8L1381.3,970.5L1387.3,971.2L1393.3,971.9L1399.3,972.6L1405.3,973.3L1411.3,973.9L1417.3,974.6L1423.3,975.2L1429.3,975.9L1435.3,976.5L1441.2,977.1L1447.2,977.7L1453.2,978.4L1459.2,978.7L1465.4,978.7L1471.6,978.7L1477.7,978.7L1483.9,978.7L1490.0,978.7L1496.2,978.7L1502.4,978.7L1508.5,978.7L1514.7,978.7L1520.8,978.7L1522.5,978.7"/>
<path transform="translate(2.85,0.0)" d="M190.5,663.5L191.2,656.2L191.8,648.9L192.5,641.7L193.2,634.4L193.8,627.1L194.5,619.8L195.2,612.6L195.8,605.3L196.5,598.0L197.2,590.7L197.8,583.5L198.5,576.2L199.2,568.9L199.8,561.6L200.5,554.4L201.2,547.1L201.8,539.8L202.5,532.5L203.2,525.2L203.8,518.0L204.5,510.7L205.2,503.4L205.8,496.1L206.5,488.9L207.2,481.6L207.8,474.3L208.5,467.0L209.1,459.8L209.8,452.5L210.5,445.2L211.1,437.9L211.8,430.7L212.5,423.4L213.1,416.1L213.8,408.8L214.5,401.6L215.1,394.3L215.8,387.0L216.5,379.7L217.1,372.5L217.8,365.2L218.5,357.9L219.1,350.6L219.8,343.3L220.5,336.1L221.1,328.8L221.8,321.5L222.5,314.2L223.1,307.0L223.8,299.7L224.5,292.4L225.1,285.1L225.8,277.9L226.5,270.6L227.1,263.3L227.8,256.0L228.5,248.8L229.1,241.5L229.8,234.2L230.5,226.9L231.1,219.7L231.8,212.4L232.5,205.1L233.1,197.8L233.8,190.6L234.5,183.3L235.1,176.0L235.8,168.7L236.5,161.4L237.1,154.2L237.8,146.9L238.5,139.6L238.8,136.0L244.9,136.0L251.1,136.0L257.3,136.0L263.4,136.0L269.6,136.0L275.7,136.0L281.9,136.0L288.1,136.0L294.2,136.0L300.4,136.0L306.6,136.0L312.7,136.0L318.9,136.0L325.0,136.0L331.2,136.0L335.2,136.0L336.2,142.4L337.2,148.5L338.2,154.6L339.2,160.5L340.4,167.4L341.5,174.1L342.7,180.8L343.8,187.3L345.0,193.7L346.2,200.1L347.3,206.3L348.5,212.5L349.7,218.6L350.8,224.6L352.0,230.5L353.3,237.1L354.7,243.6L356.0,250.0L357.3,256.4L358.7,262.6L360.0,268.7L361.3,274.7L362.7,280.7L364.2,287.2L365.7,293.7L367.2,300.0L368.7,306.3L370.2,312.4L371.7,318.4L373.2,324.3L374.6,330.2L376.3,336.6L378.0,342.8L379.6,349.0L381.3,355.0L383.0,361.0L384.6,366.8L386.5,373.1L388.3,379.3L390.1,385.4L392.0,391.3L393.8,397.2L395.6,402.9L397.6,409.1L399.6,415.1L401.6,421.1L403.6,426.9L405.6,432.6L407.8,438.7L409.9,444.6L412.1,450.4L414.3,456.1L416.4,461.8L418.8,467.7L421.1,473.5L423.4,479.2L425.8,484.7L428.3,490.6L430.8,496.3L433.3,501.9L435.8,507.4L438.4,513.1L441.1,518.8L443.7,524.3L446.4,529.6L449.2,535.2L452.1,540.7L454.9,546.1L457.9,551.6L460.9,557.1L463.9,562.4L467.1,567.9L470.2,573.2L473.4,578.5L476.5,583.6L479.9,588.8L483.2,594.0L486.5,599.0L490.0,604.2L493.5,609.2L497.0,614.2L500.7,619.2L504.4,624.1L508.0,629.0L511.8,633.9L515.7,638.7L519.5,643.4L523.5,648.1L527.5,652.8L531.5,657.4L535.7,662.0L539.8,666.5L544.0,670.9L548.3,675.4L552.6,679.8L557.0,684.1L561.3,688.2L565.8,692.5L570.3,696.6L574.8,700.6L579.4,704.7L584.1,708.7L588.8,712.6L593.4,716.4L598.3,720.3L603.1,724.0L607.9,727.7L612.7,731.3L617.7,734.9L622.7,738.5L627.7,741.9L632.7,745.3L637.9,748.7L643.0,752.1L648.2,755.3L653.4,758.5L658.5,761.6L663.9,764.8L669.2,767.9L674.5,770.9L679.8,773.8L685.2,776.7L690.5,779.5L695.8,782.3L701.3,785.1L706.8,787.8L712.3,790.5L717.8,793.1L723.3,795.7L728.8,798.2L734.3,800.6L739.9,803.1L745.6,805.5L751.3,807.9L756.9,810.2L762.6,812.5L768.3,814.8L773.9,817.0L779.6,819.1L785.2,821.3L790.9,823.3L796.6,825.4L802.2,827.4L808.0,829.4L813.9,831.4L819.7,833.3L825.5,835.2L831.4,837.1L837.2,838.9L843.0,840.8L848.8,842.5L854.7,844.3L860.5,846.0L866.3,847.7L872.2,849.3L878.0,851.0L883.8,852.6L889.6,854.1L895.5,855.7L901.3,857.2L907.1,858.7L912.9,860.2L918.8,861.6L924.8,863.1L930.8,864.6L936.8,866.0L942.7,867.4L948.7,868.7L954.7,870.1L960.7,871.4L966.7,872.7L972.7,874.0L978.7,875.3L979.7,875.5L985.4,877.9L991.0,880.2L996.7,882.4L1002.4,884.7L1008.0,886.8L1013.7,888.9L1019.3,891.0L1025.0,893.1L1030.7,895.0L1036.5,897.1L1042.3,899.0L1048.1,901.0L1054.0,902.8L1059.8,904.7L1065.6,906.5L1071.5,908.3L1077.3,910.0L1083.1,911.8L1088.9,913.4L1094.8,915.1L1100.6,916.7L1106.4,918.3L1112.2,919.8L1118.1,921.3L1123.9,922.8L1129.7,924.3L1135.6,925.8L1141.5,927.2L1147.5,928.6L1153.5,930.0L1159.5,931.4L1165.5,932.8L1171.5,934.1L1177.5,935.4L1183.5,936.7L1189.5,937.9L1195.5,939.3L1201.5,940.7L1207.5,942.0L1213.5,943.3L1219.5,944.6L1225.5,945.9L1231.5,947.1L1237.5,948.4L1243.4,949.6L1249.4,950.7L1255.4,951.9L1261.4,953.1L1267.4,954.2L1273.4,955.3L1279.4,956.4L1285.4,957.4L1291.4,958.4L1297.4,959.3L1303.4,960.2L1309.4,961.1L1315.4,961.9L1321.4,962.8L1327.4,963.6L1333.4,964.4L1339.4,965.2L1345.3,966.0L1351.3,966.8L1357.3,967.5L1363.3,968.3L1369.3,969.0L1375.3,969.8L1381.3,970.5L1387.3,971.2L1393.3,971.9L1399.3,972.6L1405.3,973.3L1411.3,973.9L1417.3,974.6L1423.3,975.2L1429.3,975.9L1435.3,976.5L1441.2,977.1L1447.2,977.7L1453.2,978.4L1459.2,978.7L1465.4,978.7L1471.6,978.7L1477.7,978.7L1483.9,978.7L1490.0,978.7L1496.2,978.7L1502.4,978.7L1508.5,978.7L1514.7,978.7L1520.8,978.7L1522.5,978.7"/>
<path transform="translate(2.85,2.85)" d="M190.5,663.5L191.2,656.2L191.8,648.9L192.5,641.7L193.2,634.4L193.8,627.1L194.5,619.8L195.2,612.6L195.8,605.3L196.5,598.0L197.2,590.7L197.8,583.5L198.5,576.2L199.2,568.9L199.8,561.6L200.5,554.4L201.2,547.1L201.8,539.8L202.5,532.5L203.2,525.2L203.8,518.0L204.5,510.7L205.2,503.4L205.8,496.1L206.5,488.9L207.2,481.6L207.8,474.3L208.5,467.0L209.1,459.8L209.8,452.5L210.5,445.2L211.1,437.9L211.8,430.7L212.5,423.4L213.1,416.1L213.8,408.8L214.5,401.6L215.1,394.3L215.8,387.0L216.5,379.7L217.1,372.5L217.8,365.2L218.5,357.9L219.1,350.6L219.8,343.3L220.5,336.1L221.1,328.8L221.8,321.5L222.5,314.2L223.1,307.0L223.8,299.7L224.5,292.4L225.1,285.1L225.8,277.9L226.5,270.6L227.1,263.3L227.8,256.0L228.5,248.8L229.1,241.5L229.8,234.2L230.5,226.9L231.1,219.7L231.8,212.4L232.5,205.1L233.1,197.8L233.8,190.6L234.5,183.3L235.1,176.0L235.8,168.7L236.5,161.4L237.1,154.2L237.8,146.9L238.5,139.6L238.8,136.0L244.9,136.0L251.1,136.0L257.3,136.0L263.4,136.0L269.6,136.0L275.7,136.0L281.9,136.0L288.1,136.0L294.2,136.0L300.4,136.0L306.6,136.0L312.7,136.0L318.9,136.0L325.0,136.0L331.2,136.0L335.2,136.0L336.2,142.4L337.2,148.5L338.2,154.6L339.2,160.5L340.4,167.4L341.5,174.1L342.7,180.8L343.8,187.3L345.0,193.7L346.2,200.1L347.3,206.3L348.5,212.5L349.7,218.6L350.8,224.6L352.0,230.5L353.3,237.1L354.7,243.6L356.0,250.0L357.3,256.4L358.7,262.6L360.0,268.7L361.3,274.7L362.7,280.7L364.2,287.2L365.7,293.7L367.2,300.0L368.7,306.3L370.2,312.4L371.7,318.4L373.2,324.3L374.6,330.2L376.3,336.6L378.0,342.8L379.6,349.0L381.3,355.0L383.0,361.0L384.6,366.8L386.5,373.1L388.3,379.3L390.1,385.4L392.0,391.3L393.8,397.2L395.6,402.9L397.6,409.1L399.6,415.1L401.6,421.1L403.6,426.9L405.6,432.6L407.8,438.7L409.9,444.6L412.1,450.4L414.3,456.1L416.4,461.8L418.8,467.7L421.1,473.5L423.4,479.2L425.8,484.7L428.3,490.6L430.8,496.3L433.3,501.9L435.8,507.4L438.4,513.1L441.1,518.8L443.7,524.3L446.4,529.6L449.2,535.2L452.1,540.7L454.9,546.1L457.9,551.6L460.9,557.1L463.9,562.4L467.1,567.9L470.2,573.2L473.4,578.5L476.5,583.6L479.9,588.8L483.2,594.0L486.5,599.0L490.0,604.2L493.5,609.2L497.0,614.2L500.7,619.2L504.4,624.1L508.0,629.0L511.8,633.9L515.7,638.7L519.5,643.4L523.5,648.1L527.5,652.8L531.5,657.4L535.7,662.0L539.8,666.5L544.0,670.9L548.3,675.4L552.6,679.8L557.0,684.1L561.3,688.2L565.8,692.5L570.3,696.6L574.8,700.6L579.4,704.7L584.1,708.7L588.8,712.6L593.4,716.4L598.3,720.3L603.1,724.0L607.9,727.7L612.7,731.3L617.7,734.9L622.7,738.5L627.7,741.9L632.7,745.3L637.9,748.7L643.0,752.1L648.2,755.3L653.4,758.5L658.5,761.6L663.9,764.8L669.2,767.9L674.5,770.9L679.8,773.8L685.2,776.7L690.5,779.5L695.8,782.3L701.3,785.1L706.8,787.8L712.3,790.5L717.8,793.1L723.3,795.7L728.8,798.2L734.3,800.6L739.9,803.1L745.6,805.5L751.3,807.9L756.9,810.2L762.6,812.5L768.3,814.8L773.9,817.0L779.6,819.1L785.2,821.3L790.9,823.3L796.6,825.4L802.2,827.4L808.0,829.4L813.9,831.4L819.7,833.3L825.5,835.2L831.4,837.1L837.2,838.9L843.0,840.8L848.8,842.5L854.7,844.3L860.5,846.0L866.3,847.7L872.2,849.3L878.0,851.0L883.8,852.6L889.6,854.1L895.5,855.7L901.3,857.2L907.1,858.7L912.9,860.2L918.8,861.6L924.8,863.1L930.8,864.6L936.8,866.0L942.7,867.4L948.7,868.7L954.7,870.1L960.7,871.4L966.7,872.7L972.7,874.0L978.7,875.3L979.7,875.5L985.4,877.9L991.0,880.2L996.7,882.4L1002.4,884.7L1008.0,886.8L1013.7,888.9L1019.3,891.0L1025.0,893.1L1030.7,895.0L1036.5,897.1L1042.3,899.0L1048.1,901.0L1054.0,902.8L1059.8,904.7L1065.6,906.5L1071.5,908.3L1077.3,910.0L1083.1,911.8L1088.9,913.4L1094.8,915.1L1100.6,916.7L1106.4,918.3L1112.2,919.8L1118.1,921.3L1123.9,922.8L1129.7,924.3L1135.6,925.8L1141.5,927.2L1147.5,928.6L1153.5,930.0L1159.5,931.4L1165.5,932.8L1171.5,934.1L1177.5,935.4L1183.5,936.7L1189.5,937.9L1195.5,939.3L1201.5,940.7L1207.5,942.0L1213.5,943.3L1219.5,944.6L1225.5,945.9L1231.5,947.1L1237.5,948.4L1243.4,949.6L1249.4,950.7L1255.4,951.9L1261.4,953.1L1267.4,954.2L1273.4,955.3L1279.4,956.4L1285.4,957.4L1291.4,958.4L1297.4,959.3L1303.4,960.2L1309.4,961.1L1315.4,961.9L1321.4,962.8L1327.4,963.6L1333.4,964.4L1339.4,965.2L1345.3,966.0L1351.3,966.8L1357.3,967.5L1363.3,968.3L1369.3,969.0L1375.3,969.8L1381.3,970.5L1387.3,971.2L1393.3,971.9L1399.3,972.6L1405.3,973.3L1411.3,973.9L1417.3,974.6L1423.3,975.2L1429.3,975.9L1435.3,976.5L1441.2,977.1L1447.2,977.7L1453.2,978.4L1459.2,978.7L1465.4,978.7L1471.6,978.7L1477.7,978.7L1483.9,978.7L1490.0,978.7L1496.2,978.7L1502.4,978.7L1508.5,978.7L1514.7,978.7L1520.8,978.7L1522.5,978.7"/>
</g>
<line x1="460.5" y1="211.2" x2="390.1" y2="286.5" stroke="#000" stroke-width="13.2" stroke-linecap="round"/>
<polygon fill="#000" stroke="#000" stroke-width="2.4" stroke-linejoin="round" points="376.5,301.1 386.1,265.0 388.1,265.0 389.6,286.9 412.7,288.5 412.7,289.3"/>
<line x1="457.5" y1="360.8" x2="384.5" y2="436.7" stroke="#000" stroke-width="13.2" stroke-linecap="round"/>
<polygon fill="#000" stroke="#000" stroke-width="2.4" stroke-linejoin="round" points="370.6,451.1 381.5,415.0 383.5,415.0 385.0,437.4 406.5,439.0 406.5,439.8"/>
<line x1="574.2" y1="555.9" x2="380.9" y2="768.6" stroke="#000" stroke-width="13.2" stroke-linecap="round"/>
<polygon fill="#000" stroke="#000" stroke-width="2.4" stroke-linejoin="round" points="367.5,783.4 375.6,747.6 377.6,747.6 379.1,767.0 403.6,768.6 403.6,769.4"/>
<line x1="649.1" y1="664.5" x2="456.1" y2="879.5" stroke="#000" stroke-width="13.2" stroke-linecap="round"/>
<polygon fill="#000" stroke="#000" stroke-width="2.4" stroke-linejoin="round" points="442.8,894.4 450.5,858.6 452.5,858.6 454.0,878.0 478.7,879.6 478.7,880.4"/>
<text x="50" y="150" font-size="100" style="font-family:'Liberation Sans',Arial,Helvetica,sans-serif" fill="#1c1c1c" stroke="#fff" stroke-width="1.51" stroke-linejoin="round" transform="matrix(0.59237,0,0,0.60286,58.31,-24.73)">0.6</text>
<text x="50" y="150" font-size="100" style="font-family:'Liberation Sans',Arial,Helvetica,sans-serif" fill="#1c1c1c" stroke="#fff" stroke-width="1.46" stroke-linejoin="round" transform="matrix(0.59237,0,0,0.64429,58.31,137.16)">0.5</text>
<text x="50" y="150" font-size="100" style="font-family:'Liberation Sans',Arial,Helvetica,sans-serif" fill="#1c1c1c" stroke="#fff" stroke-width="1.52" stroke-linejoin="round" transform="matrix(0.58788,0,0,0.59286,58.55,309.37)">0.4</text>
<text x="50" y="150" font-size="100" style="font-family:'Liberation Sans',Arial,Helvetica,sans-serif" fill="#1c1c1c" stroke="#fff" stroke-width="1.46" stroke-linejoin="round" transform="matrix(0.59237,0,0,0.63714,58.31,470.43)">0.3</text>
<text x="50" y="150" font-size="100" style="font-family:'Liberation Sans',Arial,Helvetica,sans-serif" fill="#1c1c1c" stroke="#fff" stroke-width="1.49" stroke-linejoin="round" transform="matrix(0.59692,0,0,0.61143,58.07,640.79)">0.2</text>
<text x="50" y="150" font-size="100" style="font-family:'Liberation Sans',Arial,Helvetica,sans-serif" fill="#1c1c1c" stroke="#fff" stroke-width="1.51" stroke-linejoin="round" transform="matrix(0.59857,0,0,0.59286,57.98,809.97)">0.</text>
<text x="50" y="150" font-size="100" style="font-family:'Liberation Sans',Arial,Helvetica,sans-serif" fill="#1c1c1c" stroke="#fff" stroke-width="0.76" stroke-linejoin="round" transform="matrix(0.75652,0,0,0.55333,95.98,815.90)"><tspan style="font-family:NanumGothic,Liberation Sans,sans-serif">1</tspan></text>
<text x="50" y="150" font-size="100" style="font-family:'Liberation Sans',Arial,Helvetica,sans-serif" fill="#1c1c1c" stroke="#fff" stroke-width="1.55" stroke-linejoin="round" transform="matrix(0.56042,0,0,0.60286,110.84,973.87)">0</text>
<text x="50" y="150" font-size="100" style="font-family:'Liberation Sans',Arial,Helvetica,sans-serif" fill="#1c1c1c" stroke="#fff" stroke-width="1.48" stroke-linejoin="round" transform="matrix(0.61667,0,0,0.60000,140.90,1031.30)">0</text>
<text x="50" y="150" font-size="100" style="font-family:'Liberation Sans',Arial,Helvetica,sans-serif" fill="#1c1c1c" stroke="#fff" stroke-width="0.82" stroke-linejoin="round" transform="matrix(0.66522,0,0,0.56000,470.43,1037.30)"><tspan style="font-family:NanumGothic,Liberation Sans,sans-serif">1</tspan></text>
<text x="50" y="150" font-size="100" style="font-family:'Liberation Sans',Arial,Helvetica,sans-serif" fill="#1c1c1c" stroke="#fff" stroke-width="1.54" stroke-linejoin="round" transform="matrix(0.57826,0,0,0.59429,808.40,1031.96)">2</text>
<text x="50" y="150" font-size="100" style="font-family:'Liberation Sans',Arial,Helvetica,sans-serif" fill="#1c1c1c" stroke="#fff" stroke-width="1.47" stroke-linejoin="round" transform="matrix(0.62979,0,0,0.59857,1139.29,1031.31)">3</text>
<text x="50" y="150" font-size="100" style="font-family:'Liberation Sans',Arial,Helvetica,sans-serif" fill="#1c1c1c" stroke="#fff" stroke-width="1.53" stroke-linejoin="round" transform="matrix(0.58039,0,0,0.59855,1476.02,1031.22)">4</text>
<text x="50" y="150" font-size="100" style="font-family:'Liberation Sans',Arial,Helvetica,sans-serif" fill="#1c1c1c" stroke="#fff" stroke-width="1.40" stroke-linejoin="round" transform="matrix(0.67052,0,0,0.61507,681.21,1113.14)">Period [s]</text>
<text x="50" y="150" font-size="100" style="font-family:'Liberation Sans',Arial,Helvetica,sans-serif" fill="#000" stroke="#fff" stroke-width="3.40" stroke-linejoin="round" transform="matrix(0.50095,0,0,0.55857,444.94,116.91)">MCE</text>
<text x="50" y="150" font-size="100" style="font-family:'Liberation Sans',Arial,Helvetica,sans-serif" fill="#000" stroke="#fff" stroke-width="3.39" stroke-linejoin="round" transform="matrix(0.49741,0,0,0.56377,448.15,265.93)">BDE</text>
<text x="50" y="150" font-size="100" style="font-family:'Liberation Sans',Arial,Helvetica,sans-serif" fill="#000" stroke="#fff" stroke-width="3.38" stroke-linejoin="round" transform="matrix(0.50408,0,0,0.56000,551.48,449.60)">SDE</text>
<text x="50" y="150" font-size="100" style="font-family:'Liberation Sans',Arial,Helvetica,sans-serif" fill="#000" stroke="#fff" stroke-width="3.40" stroke-linejoin="round" transform="matrix(0.49947,0,0,0.56087,623.83,565.87)">FDE</text>
<text x="50" y="150" font-size="100" style="font-family:'Liberation Sans',Arial,Helvetica,sans-serif;font-style:italic" fill="#000" stroke="#000" stroke-width="0.74" stroke-linejoin="round" transform="matrix(0.54188,0,0,0.53562,1036.28,66.16)">Florence</text>
<text x="50" y="150" font-size="100" style="font-family:'Liberation Sans',Arial,Helvetica,sans-serif;font-style:italic" fill="#000" stroke="#000" stroke-width="0.74" stroke-linejoin="round" transform="matrix(0.54020,0,0,0.53973,871.87,150.04)">Horizontal Component</text>
<text x="50" y="150" font-size="100" style="font-family:'Liberation Sans',Arial,Helvetica,sans-serif;font-style:italic" fill="#000" stroke="#000" stroke-width="2.82" stroke-linejoin="round" transform="matrix(0.52583,0,0,0.53699,1076.03,233.95)">ξ=5%</text>
<text x="50" y="150" font-size="100" style="font-family:'Liberation Sans',Arial,Helvetica,sans-serif;font-style:italic" fill="#000" stroke="#000" stroke-width="0.74" stroke-linejoin="round" transform="matrix(0.51967,0,0,0.55571,872.34,314.84)">V<tspan font-size="55" font-style="normal" dy="10">n</tspan><tspan dy="-10">=50 years C</tspan><tspan font-size="55" font-style="normal" dy="10">u</tspan><tspan dy="-10">=1.5; T1</tspan></text>
<text x="50" y="150" font-size="100" style="font-family:'Liberation Sans',Arial,Helvetica,sans-serif;font-style:italic" fill="#000" stroke="#000" stroke-width="0.74" stroke-linejoin="round" transform="matrix(0.54185,0,0,0.53562,1003.28,401.86)">B-Type Soil</text>
<text x="50" y="150" font-size="100" style="font-family:'Liberation Sans',Arial,Helvetica,sans-serif" fill="#404040" stroke="#fff" stroke-width="1.36" stroke-linejoin="round" transform="matrix(0,-0.66570,0.65753,0,-32.63,922.61)">Pseudo-acceleration [g]</text>
</svg>
</body></html>
